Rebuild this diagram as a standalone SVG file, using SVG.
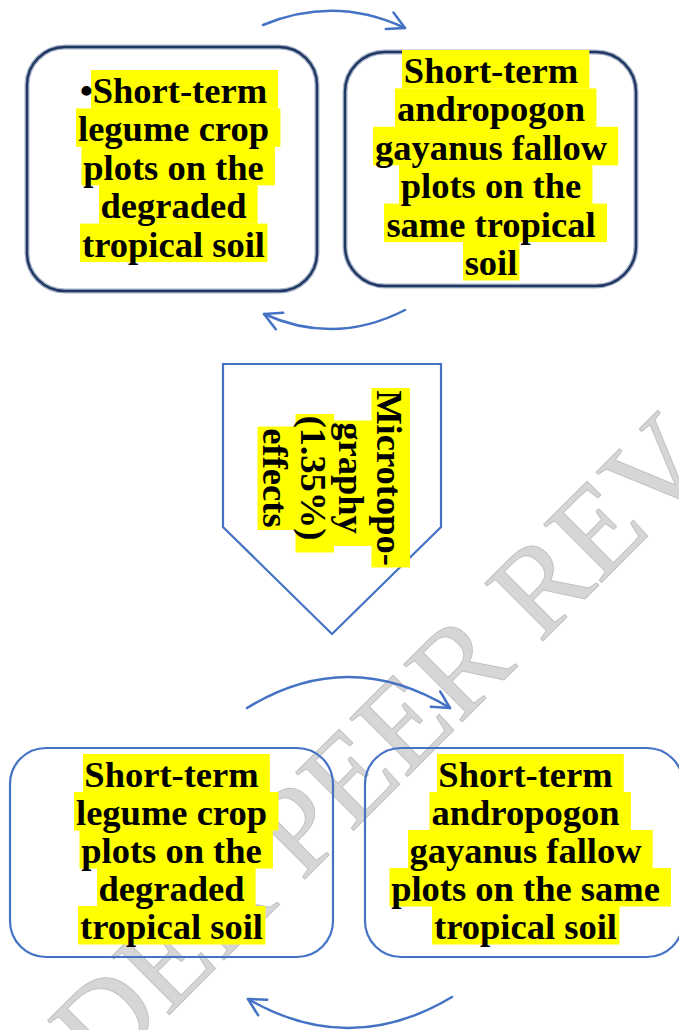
<svg xmlns="http://www.w3.org/2000/svg" width="679" height="1030" viewBox="0 0 679 1030">
<style>
.t{font-family:"Liberation Serif","Times New Roman",serif;font-weight:bold;font-size:36.5px;text-anchor:middle;fill:#000}
.hl{fill:#FFFF00}
.box{fill:none;stroke:#4472C4;stroke-width:2.2}
.dbox{fill:none;stroke:#1F3763;stroke-width:2.4}
.dhalo{fill:none;stroke:#A9B4C8;stroke-width:5}
.arc{fill:none;stroke:#4472C4;stroke-width:2.5;stroke-linecap:round;marker-end:url(#ah)}
.wm{font-family:"Liberation Serif","Times New Roman",serif;font-size:125px;fill:#D6D6D6;stroke:#C2C2C2;stroke-width:1}
</style>
<defs>
<marker id="ah" markerUnits="userSpaceOnUse" markerWidth="40" markerHeight="40" viewBox="-20 -20 40 40" refX="0" refY="0" orient="auto" overflow="visible">
<path d="M-17,-9 L0,0 L-17,9" fill="none" stroke="#4472C4" stroke-width="2.5" stroke-linecap="round" stroke-linejoin="round"/>
</marker>
</defs>
<rect width="679" height="1030" fill="#fff"/>
<g id="watermark">
<text class="wm" transform="translate(103,1081) rotate(-45)">DER PEER REV</text>
</g>
<g id="connectors">
<path class="arc" d="M263,25 Q335,-5 405,28"/>
<path class="arc" d="M405,310 Q335,346 264,314"/>
<path class="arc" d="M247,708 Q348,646 450,708"/>
<path class="arc" d="M452,997 Q350,1058 248,999"/>
</g>
<g id="node-top-left">
<rect class="dhalo" x="27" y="47" width="290" height="244" rx="38"/>
<rect class="dbox" x="27" y="47" width="290" height="244" rx="38"/>
<rect class="hl" x="91" y="70" width="187" height="38.5"/>
<rect class="hl" x="76" y="108.4" width="204.4" height="38.5"/>
<rect class="hl" x="81.5" y="146.8" width="193.4" height="38.5"/>
<rect class="hl" x="99" y="185.2" width="158.6" height="38.5"/>
<rect class="hl" x="80" y="223.6" width="187.5" height="38.5"/>
<text class="t" x="173.5" y="103">•Short-term</text>
<text class="t" x="173.5" y="141.4">legume crop</text>
<text class="t" x="173.5" y="179.8">plots on the</text>
<text class="t" x="173.5" y="218.2">degraded</text>
<text class="t" x="173.5" y="256.6">tropical soil</text>
</g>
<g id="node-top-right">
<rect class="dhalo" x="345" y="52" width="291" height="234" rx="40"/>
<rect class="dbox" x="345" y="52" width="291" height="234" rx="40"/>
<rect class="hl" x="402" y="50" width="187.3" height="38.5"/>
<rect class="hl" x="395" y="88.4" width="201.4" height="38.5"/>
<rect class="hl" x="373" y="126.8" width="245.2" height="38.5"/>
<rect class="hl" x="399" y="165.2" width="193.4" height="38.5"/>
<rect class="hl" x="384" y="203.6" width="223" height="38.5"/>
<rect class="hl" x="463" y="242" width="56.5" height="38.5"/>
<text class="t" x="491" y="83">Short-term</text>
<text class="t" x="491" y="121.4">andropogon</text>
<text class="t" x="491" y="159.8">gayanus fallow</text>
<text class="t" x="491" y="198.2">plots on the</text>
<text class="t" x="491" y="236.6">same tropical</text>
<text class="t" x="491" y="275">soil</text>
</g>
<g id="node-microtopography">
<polygon class="box" points="223,364 441,364 441,527 332,634 223,527"/>
<g transform="translate(0,478) rotate(90)">
<rect class="hl" x="-90" y="-410" width="179.5" height="38.5"/>
<rect class="hl" x="-57.5" y="-372" width="125.4" height="38.5"/>
<rect class="hl" x="-64" y="-334" width="138.5" height="38.5"/>
<rect class="hl" x="-51.5" y="-296" width="103.5" height="38.5"/>
<text class="t" x="0" y="-377">Microtopo-</text>
<text class="t" x="0" y="-339">graphy</text>
<text class="t" x="0" y="-301">(1.35%)</text>
<text class="t" x="0" y="-263">effects</text>
</g>
</g>
<g id="node-bottom-left">
<rect class="box" x="10" y="748" width="323" height="209" rx="36"/>
<rect class="hl" x="83" y="754" width="186.8" height="38.5"/>
<rect class="hl" x="74" y="792" width="204.4" height="38.5"/>
<rect class="hl" x="79.5" y="830" width="193.4" height="38.5"/>
<rect class="hl" x="97" y="868" width="158.6" height="38.5"/>
<rect class="hl" x="78" y="906" width="187.5" height="38.5"/>
<text class="t" x="171.5" y="787">Short-term</text>
<text class="t" x="171.5" y="825">legume crop</text>
<text class="t" x="171.5" y="863">plots on the</text>
<text class="t" x="171.5" y="901">degraded</text>
<text class="t" x="171.5" y="939">tropical soil</text>
</g>
<g id="node-bottom-right">
<rect class="box" x="365" y="748" width="318" height="209" rx="36"/>
<rect class="hl" x="437" y="754" width="186.8" height="38.5"/>
<rect class="hl" x="429.5" y="792" width="201.4" height="38.5"/>
<rect class="hl" x="408" y="830" width="244.7" height="38.5"/>
<rect class="hl" x="389.5" y="868" width="281.5" height="38.5"/>
<rect class="hl" x="432" y="906" width="187.5" height="38.5"/>
<text class="t" x="525.5" y="787">Short-term</text>
<text class="t" x="525.5" y="825">andropogon</text>
<text class="t" x="525.5" y="863">gayanus fallow</text>
<text class="t" x="525.5" y="901">plots on the same</text>
<text class="t" x="525.5" y="939">tropical soil</text>
</g>
</svg>
